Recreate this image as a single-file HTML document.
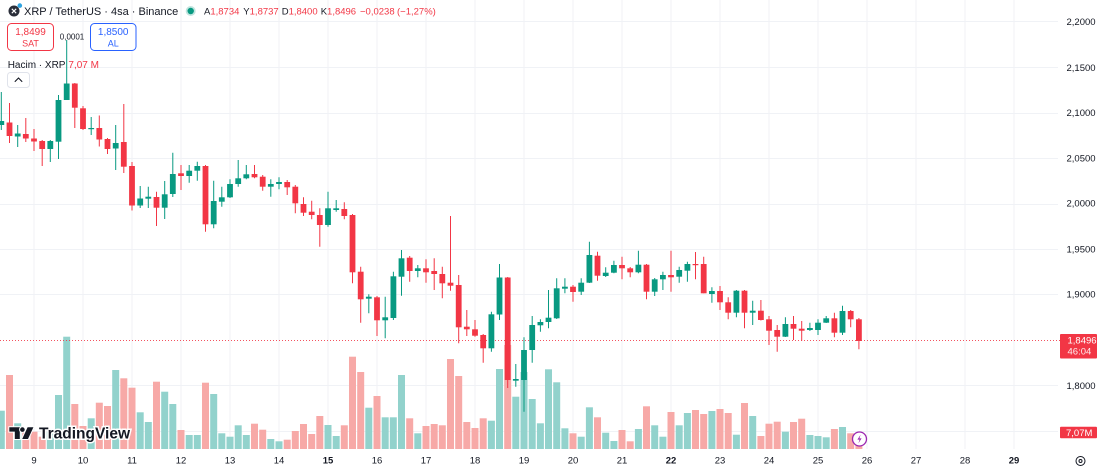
<!DOCTYPE html>
<html><head><meta charset="utf-8"><style>
html,body{margin:0;padding:0;background:#fff;}
svg{display:block;font-family:"Liberation Sans",sans-serif;}
</style></head><body>
<svg width="1100" height="471" viewBox="0 0 1100 471" xmlns="http://www.w3.org/2000/svg">
<rect width="1100" height="471" fill="#fff"/>
<!-- grid -->
<g stroke="#f0f2f6" stroke-width="1">
<path d="M0 21.5H1058M0 67.5H1058M0 113.5H1058M0 158.5H1058M0 204.5H1058M0 249.5H1058M0 294.5H1058M0 385.5H1058M0 431.5H1058"/>
<path d="M34 0V449M83 0V449M132 0V449M181 0V449M230 0V449M279 0V449M328 0V449M377 0V449M426 0V449M475 0V449M524 0V449M573 0V449M622 0V449M671 0V449M720 0V449M769 0V449M818 0V449M867 0V449M916 0V449M965 0V449M1014 0V449"/>
</g>
<!-- volume green -->
<g fill="#92d2cc">
<rect x="-2.2" y="410.7" width="7" height="38.3"/><rect x="14.2" y="423.3" width="7" height="25.7"/><rect x="46.8" y="431.7" width="7" height="17.3"/><rect x="55" y="395" width="7" height="54"/><rect x="63.2" y="336.7" width="7" height="112.3"/><rect x="87.7" y="418.3" width="7" height="30.7"/><rect x="112.2" y="370" width="7" height="79"/><rect x="136.7" y="412.3" width="7" height="36.7"/><rect x="144.8" y="422" width="7" height="27"/><rect x="161.2" y="391.7" width="7" height="57.3"/><rect x="169.3" y="404" width="7" height="45"/><rect x="185.7" y="435" width="7" height="14"/><rect x="193.8" y="435" width="7" height="14"/><rect x="210.2" y="394" width="7" height="55"/><rect x="218.3" y="433.3" width="7" height="15.7"/><rect x="226.5" y="436.7" width="7" height="12.3"/><rect x="234.7" y="425.3" width="7" height="23.7"/><rect x="242.8" y="435" width="7" height="14"/><rect x="267.3" y="439" width="7" height="10"/><rect x="275.5" y="441.3" width="7" height="7.7"/><rect x="324.5" y="425" width="7" height="24"/><rect x="332.7" y="436" width="7" height="13"/><rect x="365.3" y="407.7" width="7" height="41.3"/><rect x="381.7" y="417.3" width="7" height="31.7"/><rect x="389.8" y="417.3" width="7" height="31.7"/><rect x="398" y="375" width="7" height="74"/><rect x="414.3" y="433.3" width="7" height="15.7"/><rect x="487.9" y="420.7" width="7" height="28.3"/><rect x="496" y="369" width="7" height="80"/><rect x="512.3" y="396.7" width="7" height="52.3"/><rect x="520.5" y="372" width="7" height="77"/><rect x="528.7" y="399" width="7" height="50"/><rect x="536.9" y="423.3" width="7" height="25.7"/><rect x="545" y="369.3" width="7" height="79.7"/><rect x="553.2" y="382.3" width="7" height="66.7"/><rect x="561.4" y="428.3" width="7" height="20.7"/><rect x="577.7" y="436.7" width="7" height="12.3"/><rect x="585.9" y="407.3" width="7" height="41.7"/><rect x="602.2" y="432.7" width="7" height="16.3"/><rect x="610.4" y="441" width="7" height="8"/><rect x="634.9" y="429" width="7" height="20"/><rect x="651.2" y="425.3" width="7" height="23.7"/><rect x="659.4" y="436.7" width="7" height="12.3"/><rect x="675.7" y="425.3" width="7" height="23.7"/><rect x="683.9" y="413" width="7" height="36"/><rect x="708.4" y="411" width="7" height="38"/><rect x="732.9" y="434.7" width="7" height="14.3"/><rect x="749.2" y="416" width="7" height="33"/><rect x="781.9" y="431.7" width="7" height="17.3"/><rect x="806.4" y="435" width="7" height="14"/><rect x="814.5" y="436" width="7" height="13"/><rect x="822.7" y="437.3" width="7" height="11.7"/><rect x="839" y="427" width="7" height="22"/>
</g>
<!-- volume red -->
<g fill="#f7a9a7">
<rect x="6" y="375" width="7" height="74"/><rect x="22.3" y="431.7" width="7" height="17.3"/><rect x="30.5" y="431.7" width="7" height="17.3"/><rect x="38.7" y="436.7" width="7" height="12.3"/><rect x="71.3" y="404" width="7" height="45"/><rect x="79.5" y="426" width="7" height="23"/><rect x="95.8" y="402.7" width="7" height="46.3"/><rect x="104" y="406" width="7" height="43"/><rect x="120.3" y="378.3" width="7" height="70.7"/><rect x="128.5" y="387.7" width="7" height="61.3"/><rect x="153" y="381.7" width="7" height="67.3"/><rect x="177.5" y="430" width="7" height="19"/><rect x="202" y="382.7" width="7" height="66.3"/><rect x="251" y="423.7" width="7" height="25.3"/><rect x="259.2" y="429.7" width="7" height="19.3"/><rect x="283.7" y="439.7" width="7" height="9.3"/><rect x="291.8" y="431" width="7" height="18"/><rect x="300" y="424" width="7" height="25"/><rect x="308.2" y="434" width="7" height="15"/><rect x="316.3" y="416" width="7" height="33"/><rect x="340.8" y="425.3" width="7" height="23.7"/><rect x="349" y="356.7" width="7" height="92.3"/><rect x="357.2" y="372" width="7" height="77"/><rect x="373.5" y="396" width="7" height="53"/><rect x="406.2" y="418.3" width="7" height="30.7"/><rect x="422.5" y="426" width="7" height="23"/><rect x="430.7" y="424" width="7" height="25"/><rect x="438.8" y="425.3" width="7" height="23.7"/><rect x="447" y="359" width="7" height="90"/><rect x="455.2" y="376" width="7" height="73"/><rect x="463.3" y="422" width="7" height="27"/><rect x="471.5" y="428" width="7" height="21"/><rect x="479.7" y="418.3" width="7" height="30.7"/><rect x="504.2" y="345" width="7" height="104"/><rect x="569.5" y="433.3" width="7" height="15.7"/><rect x="594" y="417.3" width="7" height="31.7"/><rect x="618.5" y="430" width="7" height="19"/><rect x="626.7" y="441.3" width="7" height="7.7"/><rect x="643" y="406.3" width="7" height="42.7"/><rect x="667.5" y="412" width="7" height="37"/><rect x="692" y="410" width="7" height="39"/><rect x="700.2" y="414" width="7" height="35"/><rect x="716.5" y="409" width="7" height="40"/><rect x="724.7" y="413" width="7" height="36"/><rect x="741" y="403" width="7" height="46"/><rect x="757.4" y="436" width="7" height="13"/><rect x="765.5" y="423.7" width="7" height="25.3"/><rect x="773.7" y="421.7" width="7" height="27.3"/><rect x="790" y="422" width="7" height="27"/><rect x="798.2" y="418.7" width="7" height="30.3"/><rect x="830.9" y="429" width="7" height="20"/><rect x="847.2" y="433.3" width="7" height="15.7"/><rect x="855.4" y="433.3" width="7" height="15.7"/>
</g>
<!-- last price dotted line -->
<path d="M0 340.5H1060" stroke="#f23645" stroke-width="1" stroke-dasharray="1 2" opacity="0.85"/>
<!-- green candles -->
<g stroke="#089981" stroke-width="1" fill="none">
<path d="M1.3 92V130M17.7 125V147M50.3 140V162M58.5 95V159M66.7 40V100M91.2 117V135M115.7 125V170M140.2 186V208M148.3 186.7V208M164.7 181V219M172.8 152.7V197M189.2 165V182.7M197.3 161.7V180.7M213.7 180.7V228.3M221.8 186.7V206.7M230 179.3V198M238.2 160V186.7M246.3 165V179.3M270.8 179.3V196.7M279 177.3V189.3M328 191.7V226.7M336.2 200V211.7M368.8 294.3V313.3M385.2 296.7V338.3M393.4 271.7V320M401.5 250V295.7M417.8 265V277.3M491.4 311.7V351.7M499.5 264V320M515.8 364V386.7M524 337.3V411.7M532.2 316V362.7M540.4 319.3V331.7M548.5 290V328.3M556.7 278.3V319M564.9 278.3V293.3M581.2 278.3V295M589.4 241.7V283M605.7 267.3V277M613.9 260.7V273.3M638.4 250.7V273.3M654.7 278V296M662.9 271.7V290M679.2 266.7V282.7M687.4 261.7V281.7M711.9 287.3V302.7M736.4 290V317.3M752.7 300.7V325M785.4 317.3V337M809.9 322.7V331M818 319.3V335M826.2 316V323M842.5 305.7V335"/>
</g>
<g fill="#089981">
<rect x="-1.6" y="121" width="5.8" height="4"/><rect x="14.8" y="133.5" width="5.8" height="3"/><rect x="47.4" y="141" width="5.8" height="8"/><rect x="55.6" y="100" width="5.8" height="41.7"/><rect x="63.8" y="83.5" width="5.8" height="16.5"/><rect x="88.3" y="128" width="5.8" height="1.2"/><rect x="112.8" y="143" width="5.8" height="5.5"/><rect x="137.3" y="198.5" width="5.8" height="7"/><rect x="145.4" y="196.7" width="5.8" height="2"/><rect x="161.8" y="194.3" width="5.8" height="13.4"/><rect x="169.9" y="174" width="5.8" height="20"/><rect x="186.3" y="170.7" width="5.8" height="5.3"/><rect x="194.4" y="166" width="5.8" height="4.7"/><rect x="210.8" y="201" width="5.8" height="23.3"/><rect x="218.9" y="197.3" width="5.8" height="4.4"/><rect x="227.1" y="184" width="5.8" height="13.3"/><rect x="235.3" y="178.3" width="5.8" height="5.7"/><rect x="243.4" y="174.3" width="5.8" height="4"/><rect x="267.9" y="184" width="5.8" height="2.7"/><rect x="276.1" y="182" width="5.8" height="2"/><rect x="325.1" y="208.3" width="5.8" height="16.7"/><rect x="333.3" y="208.3" width="5.8" height="1.7"/><rect x="365.9" y="296.7" width="5.8" height="2"/><rect x="382.3" y="317.3" width="5.8" height="3"/><rect x="390.5" y="276.3" width="5.8" height="41.7"/><rect x="398.6" y="258.3" width="5.8" height="18.4"/><rect x="414.9" y="268.3" width="5.8" height="2.7"/><rect x="488.5" y="314.3" width="5.8" height="34"/><rect x="496.6" y="277.5" width="5.8" height="37"/><rect x="512.9" y="379" width="5.8" height="1.7"/><rect x="521.1" y="350" width="5.8" height="30"/><rect x="529.3" y="325" width="5.8" height="25"/><rect x="537.5" y="322" width="5.8" height="3.3"/><rect x="545.6" y="317.7" width="5.8" height="4.3"/><rect x="553.8" y="288.3" width="5.8" height="30"/><rect x="562" y="286.7" width="5.8" height="2"/><rect x="578.3" y="282.7" width="5.8" height="9"/><rect x="586.5" y="255" width="5.8" height="27.7"/><rect x="602.8" y="272.7" width="5.8" height="3.3"/><rect x="611" y="265" width="5.8" height="7.7"/><rect x="635.5" y="264.7" width="5.8" height="7.6"/><rect x="651.8" y="279.3" width="5.8" height="12.4"/><rect x="660" y="275" width="5.8" height="4.3"/><rect x="676.3" y="270" width="5.8" height="6.7"/><rect x="684.5" y="264" width="5.8" height="6.7"/><rect x="709" y="291" width="5.8" height="3"/><rect x="733.5" y="290.7" width="5.8" height="22"/><rect x="749.8" y="310.7" width="5.8" height="2"/><rect x="782.5" y="324" width="5.8" height="12.7"/><rect x="807" y="328" width="5.8" height="2"/><rect x="815.1" y="322.7" width="5.8" height="7.3"/><rect x="823.3" y="318.3" width="5.8" height="4.4"/><rect x="839.6" y="311" width="5.8" height="21.7"/>
</g>
<!-- red candles -->
<g stroke="#f23645" stroke-width="1" fill="none">
<path d="M9.5 103V143M25.8 118V142M34 129V151M42.2 140V166M74.8 83V128M83 106V130M99.3 115.5V146.5M107.5 138V154M123.8 104V173M132 162V210.5M156.5 191.7V226M181 165V190M205.5 165V231.7M254.5 165V178.3M262.7 175V190.7M287.2 180V195M295.3 185V213.3M303.5 197.3V216M311.7 200.7V219.3M319.8 208.3V246.7M344.3 202.3V219.3M352.5 214V283.3M360.7 266.7V322.7M377 296V336M409.7 256V281.7M426 259.3V282.7M434.2 258.3V290M442.3 266.7V298.3M450.5 216V290.7M458.7 275V343.3M466.8 310V336M475 320V336.7M483.2 334V362.7M507.7 277V388M573 285V301.7M597.5 251.7V280.7M622 256.7V279.3M630.2 267V277.3M646.5 264V299.3M671 250.7V291.7M695.5 252V279.3M703.7 256.7V293.3M720 286V310M728.2 297.3V319.3M744.5 290V328.3M760.9 300V320.5M769 316V345M777.2 325V351.7M793.5 316V340M801.7 321V340.7M834.4 312.7V337.3M850.7 310V327.3M858.9 318V349.3"/>
</g>
<g fill="#f23645">
<rect x="6.6" y="122.5" width="5.8" height="13.5"/><rect x="22.9" y="134" width="5.8" height="4.5"/><rect x="31.1" y="138.5" width="5.8" height="3"/><rect x="39.3" y="141" width="5.8" height="8"/><rect x="71.9" y="83.5" width="5.8" height="24.2"/><rect x="80.1" y="108.3" width="5.8" height="20.7"/><rect x="96.4" y="128" width="5.8" height="11.5"/><rect x="104.6" y="139" width="5.8" height="10"/><rect x="120.9" y="142" width="5.8" height="24.7"/><rect x="129.1" y="166" width="5.8" height="39.5"/><rect x="153.6" y="197" width="5.8" height="10.7"/><rect x="178.1" y="173.3" width="5.8" height="2.7"/><rect x="202.6" y="166" width="5.8" height="58.3"/><rect x="251.6" y="174" width="5.8" height="3.3"/><rect x="259.8" y="176.7" width="5.8" height="10"/><rect x="284.3" y="182" width="5.8" height="5.3"/><rect x="292.4" y="186.7" width="5.8" height="16.6"/><rect x="300.6" y="204" width="5.8" height="8.7"/><rect x="308.8" y="211.7" width="5.8" height="3.3"/><rect x="316.9" y="215" width="5.8" height="10"/><rect x="341.4" y="209" width="5.8" height="7"/><rect x="349.6" y="215" width="5.8" height="57.3"/><rect x="357.8" y="271.7" width="5.8" height="27.6"/><rect x="374.1" y="297.3" width="5.8" height="23"/><rect x="406.8" y="257.7" width="5.8" height="13.3"/><rect x="423.1" y="268.3" width="5.8" height="4"/><rect x="431.3" y="271" width="5.8" height="3"/><rect x="439.4" y="274" width="5.8" height="9.3"/><rect x="447.6" y="282.7" width="5.8" height="3"/><rect x="455.8" y="285" width="5.8" height="42.3"/><rect x="463.9" y="326.7" width="5.8" height="2.6"/><rect x="472.1" y="329.3" width="5.8" height="6.4"/><rect x="480.3" y="335" width="5.8" height="13.3"/><rect x="504.8" y="277.5" width="5.8" height="102.5"/><rect x="570.1" y="286.7" width="5.8" height="5.3"/><rect x="594.6" y="255.7" width="5.8" height="20"/><rect x="619.1" y="265" width="5.8" height="3.3"/><rect x="627.3" y="268.3" width="5.8" height="4"/><rect x="643.6" y="264.7" width="5.8" height="27"/><rect x="668.1" y="275" width="5.8" height="2.3"/><rect x="692.6" y="264" width="5.8" height="1.2"/><rect x="700.8" y="264" width="5.8" height="29.3"/><rect x="717.1" y="291" width="5.8" height="11.3"/><rect x="725.3" y="302.3" width="5.8" height="10.4"/><rect x="741.6" y="290.7" width="5.8" height="22"/><rect x="758" y="310.7" width="5.8" height="9.3"/><rect x="766.1" y="319.3" width="5.8" height="11.4"/><rect x="774.3" y="330" width="5.8" height="6.7"/><rect x="790.6" y="324" width="5.8" height="4.7"/><rect x="798.8" y="328.7" width="5.8" height="2"/><rect x="831.5" y="318.3" width="5.8" height="14.4"/><rect x="847.8" y="311" width="5.8" height="8.3"/><rect x="856" y="319.3" width="5.8" height="21.7"/>
</g>
<!-- lightning icon -->
<circle cx="859.5" cy="439" r="7" fill="#fff" stroke="#9c27b0" stroke-width="1.3"/>
<path d="M860.6 434.6L857.4 439.6H859.6L858.4 443.4L861.6 438.4H859.4Z" fill="#9c27b0"/>
<!-- TradingView logo -->
<g fill="#131722" stroke="#fff" stroke-width="2" paint-order="stroke">
<path d="M9.3 427.3H19.8V439H14.8V431.6H9.3Z"/>
<circle cx="22.4" cy="429.6" r="2.3"/>
<path d="M27.6 427.3H33.4L28 439H22.2Z"/>
<text x="39" y="438.5" font-size="15.5" font-weight="bold" stroke-width="3">TradingView</text>
</g>
<!-- header -->
<circle cx="14" cy="11" r="5.5" fill="#2a2e39"/>
<path d="M11.8 8.8L16.2 13.2M16.2 8.8L11.8 13.2" stroke="#fff" stroke-width="1.1"/>
<circle cx="19.8" cy="5.6" r="2.3" fill="#2fa3e0"/>
<text x="24" y="15" font-size="11" fill="#131722">XRP / TetherUS · 4sa · Binance</text>
<circle cx="190.7" cy="11" r="5" fill="#089981" opacity="0.25"/>
<circle cx="190.7" cy="11" r="3.2" fill="#089981"/>
<g font-size="9.5" fill="#f23645">
<text x="204" y="14.5"><tspan fill="#131722">A</tspan>1,8734</text>
<text x="243.3" y="14.5"><tspan fill="#131722">Y</tspan>1,8737</text>
<text x="281.7" y="14.5"><tspan fill="#131722">D</tspan>1,8400</text>
<text x="320.7" y="14.5"><tspan fill="#131722">K</tspan>1,8496</text>
<text x="360" y="14.5">−0,0238</text>
<text x="397" y="14.5">(−1,27%)</text>
</g>
<rect x="7.5" y="23.5" width="46" height="27" rx="4" fill="#fff" stroke="#f23645" stroke-width="1"/>
<text x="30.5" y="35" font-size="10" fill="#f23645" text-anchor="middle">1,8499</text>
<text x="30.5" y="46.5" font-size="9" fill="#f23645" text-anchor="middle">SAT</text>
<text x="72" y="39.5" font-size="8" fill="#131722" text-anchor="middle">0,0001</text>
<rect x="90.5" y="23.5" width="45.5" height="27" rx="4" fill="#fff" stroke="#2962ff" stroke-width="1"/>
<text x="113.2" y="35" font-size="10" fill="#2962ff" text-anchor="middle">1,8500</text>
<text x="113.2" y="46.5" font-size="9" fill="#2962ff" text-anchor="middle">AL</text>
<text x="7.7" y="67.8" font-size="10" fill="#131722">Hacim · XRP</text>
<text x="68.4" y="67.8" font-size="10" fill="#f23645">7,07 M</text>
<rect x="7.5" y="72.5" width="22" height="15" rx="3" fill="#fff" stroke="#e0e3eb"/>
<path d="M14.8 81.8L18.5 78L22.2 81.8" fill="none" stroke="#131722" stroke-width="1.1"/>
<!-- price axis -->
<g font-size="9.5" fill="#131722">
<text x="1066.5" y="25">2,2000</text>
<text x="1066.5" y="71">2,1500</text>
<text x="1066.5" y="116">2,1000</text>
<text x="1066.5" y="161.6">2,0500</text>
<text x="1066.5" y="206.6">2,0000</text>
<text x="1066.5" y="252.3">1,9500</text>
<text x="1066.5" y="297.6">1,9000</text>
<text x="1066.5" y="389">1,8000</text>
</g>
<rect x="1060" y="334" width="37" height="24.5" rx="1" fill="#f23645"/>
<text x="1067.5" y="343.6" font-size="9.5" fill="#fff">1,8496</text>
<text x="1067.5" y="354.6" font-size="9.5" fill="#fff" opacity="0.9">46:04</text>
<rect x="1060" y="426.7" width="37" height="11.5" rx="1" fill="#f23645"/>
<text x="1066" y="436" font-size="9.5" fill="#fff">7,07M</text>
<!-- time axis -->
<g font-size="9.5" fill="#131722" text-anchor="middle">
<text x="34" y="463.5">9</text><text x="83" y="463.5">10</text><text x="132" y="463.5">11</text><text x="181" y="463.5">12</text><text x="230" y="463.5">13</text><text x="279" y="463.5">14</text><text x="328" y="463.5" font-weight="bold">15</text><text x="377" y="463.5">16</text><text x="426" y="463.5">17</text><text x="475" y="463.5">18</text><text x="524" y="463.5">19</text><text x="573" y="463.5">20</text><text x="622" y="463.5">21</text><text x="671" y="463.5" font-weight="bold">22</text><text x="720" y="463.5">23</text><text x="769" y="463.5">24</text><text x="818" y="463.5">25</text><text x="867" y="463.5">26</text><text x="916" y="463.5">27</text><text x="965" y="463.5">28</text><text x="1014" y="463.5" font-weight="bold">29</text>
</g>
<circle cx="1080.5" cy="461" r="4.5" fill="none" stroke="#131722" stroke-width="1"/>
<circle cx="1080.5" cy="461" r="1.5" fill="none" stroke="#131722" stroke-width="1"/>
</svg>
</body></html>
